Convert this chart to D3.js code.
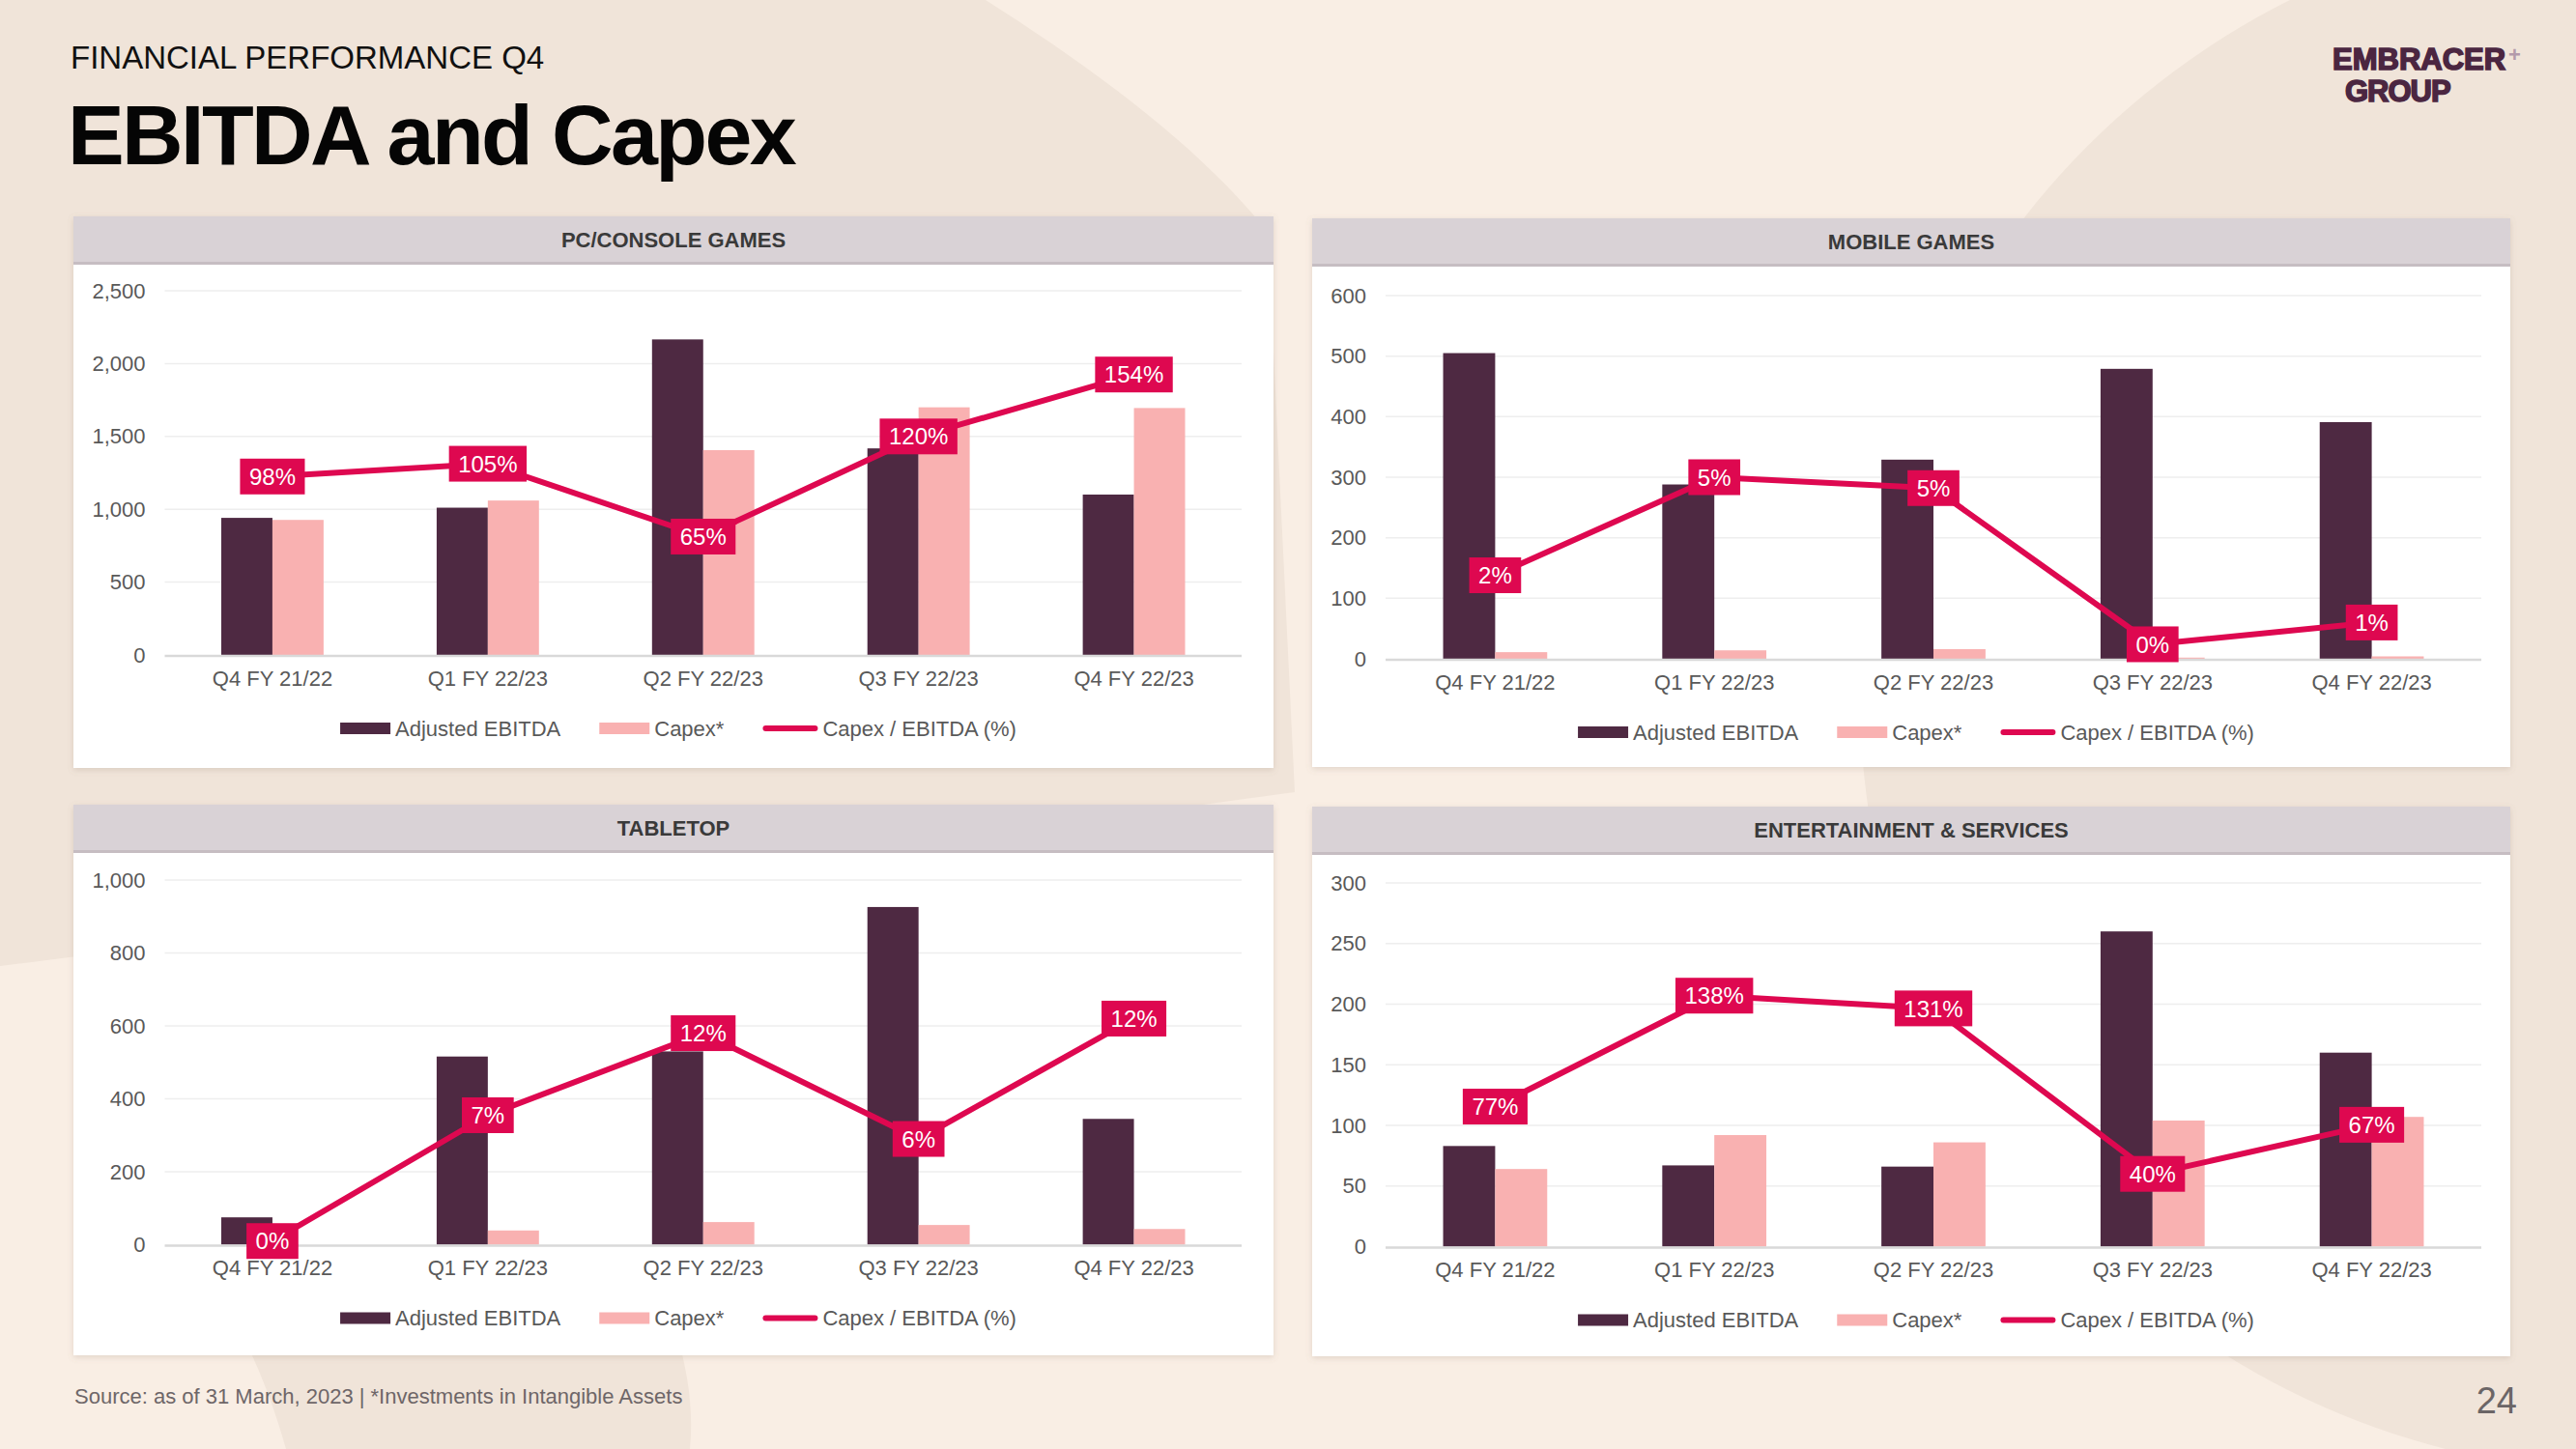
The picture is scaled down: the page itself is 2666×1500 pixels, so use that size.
<!DOCTYPE html>
<html><head><meta charset="utf-8">
<script src="https://cdn.jsdelivr.net/npm/d3@7"></script>
<style>
html,body{margin:0;padding:0;background:#f9eee4;}
svg{display:block;font-family:"Liberation Sans",Arial,Helvetica,sans-serif;}
</style></head><body>
<svg id="c" width="2666" height="1500"></svg>
<script>
// ---------- data ----------
const categories = ["Q4 FY 21/22","Q1 FY 22/23","Q2 FY 22/23","Q3 FY 22/23","Q4 FY 22/23"];
const seriesNames = ["Adjusted EBITDA","Capex*","Capex / EBITDA (%)"];
const panelTitles = ["PC/CONSOLE GAMES","MOBILE GAMES","TABLETOP","ENTERTAINMENT & SERVICES"];

const pcEbitda = [941, 1011, 2166, 1418, 1101];
const pcCapex  = [927, 1060, 1406, 1700, 1695];
const pcRatio  = [98, 105, 65, 120, 154];

const mobileEbitda = [505, 288, 329, 479, 391];
const mobileCapex  = [11, 14, 16, 2, 4];
const mobileRatio  = [2.3, 5.0, 4.7, 0.4, 1.0];

const tabletopEbitda = [75, 516, 530, 926, 345];
const tabletopCapex  = [0, 39, 62, 54, 43];
const tabletopRatio  = [0.2, 7.1, 11.6, 5.8, 12.4];

const entEbitda = [83, 67, 66, 260, 160];
const entCapex  = [64, 92, 86, 104, 107];
const entRatio  = [77, 138, 131, 40, 67];

const pcTicks       = [0, 500, 1000, 1500, 2000, 2500];
const mobileTicks   = [0, 100, 200, 300, 400, 500, 600];
const tabletopTicks = [0, 200, 400, 600, 800, 1000];
const entTicks      = [0, 50, 100, 150, 200, 250, 300];
const ratioAxisMax  = [200, 10, 20, 200]; // hidden secondary axis (%)

// ---------- styles / layout ----------
const C_EBITDA = "#4e2942", C_CAPEX = "#f9b1b1", C_LINE = "#de0850";
const C_TEXT = "#595959";
const layout = [
  {x:76,   y:224, w:1242, h:571, pl:94.5, pr:33, pt:77, pb:454},
  {x:1358, y:226, w:1240, h:568, pl:76,   pr:30, pt:80, pb:456},
  {x:76,   y:833, w:1242, h:570, pl:94.5, pr:33, pt:78, pb:455.5},
  {x:1358, y:835, w:1240, h:569, pl:76,   pr:30, pt:79, pb:455.5}
];
const panelData = [
  {ebitda: pcEbitda, capex: pcCapex, ratio: pcRatio, ticks: pcTicks},
  {ebitda: mobileEbitda, capex: mobileCapex, ratio: mobileRatio, ticks: mobileTicks},
  {ebitda: tabletopEbitda, capex: tabletopCapex, ratio: tabletopRatio, ticks: tabletopTicks},
  {ebitda: entEbitda, capex: entCapex, ratio: entRatio, ticks: entTicks}
];

const svg = d3.select("#c");
const defs = svg.append("defs");
const f = defs.append("filter").attr("id","sh").attr("x","-5%").attr("y","-5%").attr("width","110%").attr("height","115%");
f.append("feDropShadow").attr("dx",0).attr("dy",2).attr("stdDeviation",3).attr("flood-color","#8a7466").attr("flood-opacity",0.22);

// background
svg.append("rect").attr("width",2666).attr("height",1500).attr("fill","#f9eee4");
const bgDark = "#f0e4d9";
svg.append("path").attr("fill",bgDark)
  .attr("d","M0,0 L1020,0 C1130,70 1240,150 1312,240 L1340,820 C900,880 400,950 0,1000 Z");
svg.append("path").attr("fill",bgDark)
  .attr("d","M250,1380 L700,1380 C712,1420 718,1460 714,1500 L296,1500 C285,1460 270,1420 250,1380 Z");
svg.append("circle").attr("fill",bgDark).attr("cx",2730).attr("cy",720).attr("r",805);

// header texts
svg.append("text").attr("x",73).attr("y",71).attr("font-size",33).attr("fill","#111")
  .text("FINANCIAL PERFORMANCE Q4");
svg.append("text").attr("x",70).attr("y",170).attr("font-size",88).attr("font-weight","bold")
  .attr("letter-spacing",-2.6).attr("fill","#050505").text("EBITDA and Capex");

// logo
const logo = svg.append("g").attr("fill","#4b2641").attr("font-weight","bold").attr("font-size",31);
logo.append("text").attr("x",2414).attr("y",72)
  .attr("stroke","#4b2641").attr("stroke-width",1.6).text("EMBRACER");
logo.append("text").attr("x",2427).attr("y",105).attr("letter-spacing",-1)
  .attr("stroke","#4b2641").attr("stroke-width",1.6).text("GROUP");
logo.append("text").attr("x",2596).attr("y",64).attr("font-size",22).attr("font-weight","bold").attr("fill","#b39aab").text("+");

// footer
svg.append("text").attr("x",77).attr("y",1453).attr("font-size",22).attr("fill","#6e6668")
  .text("Source: as of 31 March, 2023 | *Investments in Intangible Assets");
svg.append("text").attr("x",2605).attr("y",1463).attr("text-anchor","end").attr("font-size",38).attr("fill","#6b6566")
  .text("24");

// panels
panelData.forEach((pd, i) => {
  const L = layout[i];
  const g = svg.append("g").attr("transform",`translate(${L.x},${L.y})`);
  g.append("rect").attr("width",L.w).attr("height",L.h).attr("fill","#fff").attr("filter","url(#sh)");
  g.append("rect").attr("width",L.w).attr("height",48).attr("fill","#d9d2d6");
  g.append("rect").attr("y",47).attr("width",L.w).attr("height",3).attr("fill","#c6bdc2");
  g.append("text").attr("x",L.w/2).attr("y",24).attr("dy","0.35em").attr("text-anchor","middle")
    .attr("font-size",22).attr("font-weight","bold").attr("fill","#3a3a3a").text(panelTitles[i]);

  const left = L.pl, right = L.w - L.pr, top = L.pt, bottom = L.pb;
  const x0 = d3.scaleBand().domain(categories).range([left,right]).paddingInner(0.525).paddingOuter(0.2625);
  const x1 = d3.scaleBand().domain(["ebitda","capex"]).range([0,x0.bandwidth()]);
  const yMax = pd.ticks[pd.ticks.length-1];
  const y = d3.scaleLinear().domain([0,yMax]).range([bottom,top]);
  const y2 = d3.scaleLinear().domain([0,ratioAxisMax[i]]).range([bottom,top]);

  // grid
  g.append("g").selectAll("line").data(pd.ticks.filter(t=>t>0)).join("line")
    .attr("x1",left).attr("x2",right).attr("y1",d=>y(d)).attr("y2",d=>y(d))
    .attr("stroke","#eeeeee").attr("stroke-width",1.5);

  // y axis labels
  const ya = g.append("g").attr("transform",`translate(${left},0)`)
    .call(d3.axisLeft(y).tickValues(pd.ticks).tickSize(0).tickPadding(20).tickFormat(d3.format(",")));
  ya.select(".domain").remove();
  ya.selectAll("text").attr("font-size",22).attr("fill",C_TEXT).attr("font-family","Liberation Sans, Arial, sans-serif");

  // bars
  const rows = categories.map((c,k)=>({c, ebitda: pd.ebitda[k], capex: pd.capex[k], ratio: pd.ratio[k]}));
  const bg = g.append("g");
  bg.selectAll("rect.e").data(rows).join("rect").attr("class","e")
    .attr("x",d=>x0(d.c)+x1("ebitda")).attr("width",x1.bandwidth())
    .attr("y",d=>y(d.ebitda)).attr("height",d=>y(0)-y(d.ebitda)).attr("fill",C_EBITDA);
  bg.selectAll("rect.k").data(rows).join("rect").attr("class","k")
    .attr("x",d=>x0(d.c)+x1("capex")).attr("width",x1.bandwidth())
    .attr("y",d=>y(d.capex)).attr("height",d=>y(0)-y(d.capex)).attr("fill",C_CAPEX);

  // baseline
  g.append("line").attr("x1",left).attr("x2",right).attr("y1",y(0)+1).attr("y2",y(0)+1)
    .attr("stroke","#d9d9d9").attr("stroke-width",2.5);

  // x axis labels
  const xa = g.append("g").attr("transform",`translate(0,${bottom})`)
    .call(d3.axisBottom(x0).tickSize(0).tickPadding(16));
  xa.select(".domain").remove();
  xa.selectAll("text").attr("font-size",22).attr("fill",C_TEXT).attr("font-family","Liberation Sans, Arial, sans-serif");

  // line
  const cx = d => x0(d.c) + x0.bandwidth()/2;
  g.append("path").datum(rows)
    .attr("d", d3.line().x(cx).y(d=>y2(d.ratio)))
    .attr("fill","none").attr("stroke",C_LINE).attr("stroke-width",6).attr("stroke-linejoin","round");

  // data labels
  const lab = g.append("g").selectAll("g").data(rows).join("g")
    .attr("transform", d=>`translate(${cx(d)},${y2(d.ratio)})`);
  const lt = lab.append("text").attr("text-anchor","middle").attr("dy","0.36em")
    .attr("font-size",24).attr("fill","#fff").text(d=>d3.format(".0f")(d.ratio)+"%");
  lt.each(function(){
    const w = this.getComputedTextLength() + 19;
    d3.select(this.parentNode).insert("rect","text").attr("x",-w/2).attr("y",-18.5)
      .attr("width",w).attr("height",37).attr("fill",C_LINE);
  });

  // legend
  const ly = bottom + 76;
  const leg = g.append("g");
  const items = [
    {name: seriesNames[0], type:"bar", color:C_EBITDA, sw:52},
    {name: seriesNames[1], type:"bar", color:C_CAPEX, sw:52},
    {name: seriesNames[2], type:"line", color:C_LINE, sw:57}
  ];
  const tmp = items.map(it => {
    const t = leg.append("text").attr("font-size",22).attr("fill",C_TEXT).attr("dy","0.35em").text(it.name);
    return {it, t, w: t.node().getComputedTextLength()};
  });
  const gap = 5, sep = 40;
  const total = d3.sum(tmp, o=>o.it.sw + gap + o.w) + sep*(tmp.length-1);
  let cxl = L.w/2 + 5 - total/2;
  tmp.forEach(o => {
    if (o.it.type === "bar") {
      leg.append("rect").attr("x",cxl).attr("y",ly-6).attr("width",o.it.sw).attr("height",12).attr("fill",o.it.color);
    } else {
      leg.append("line").attr("x1",cxl+3).attr("x2",cxl+o.it.sw-3).attr("y1",ly).attr("y2",ly)
        .attr("stroke",o.it.color).attr("stroke-width",6).attr("stroke-linecap","round");
    }
    o.t.attr("x",cxl + o.it.sw + gap).attr("y",ly);
    cxl += o.it.sw + gap + o.w + sep;
  });
});
</script>
</body></html>
